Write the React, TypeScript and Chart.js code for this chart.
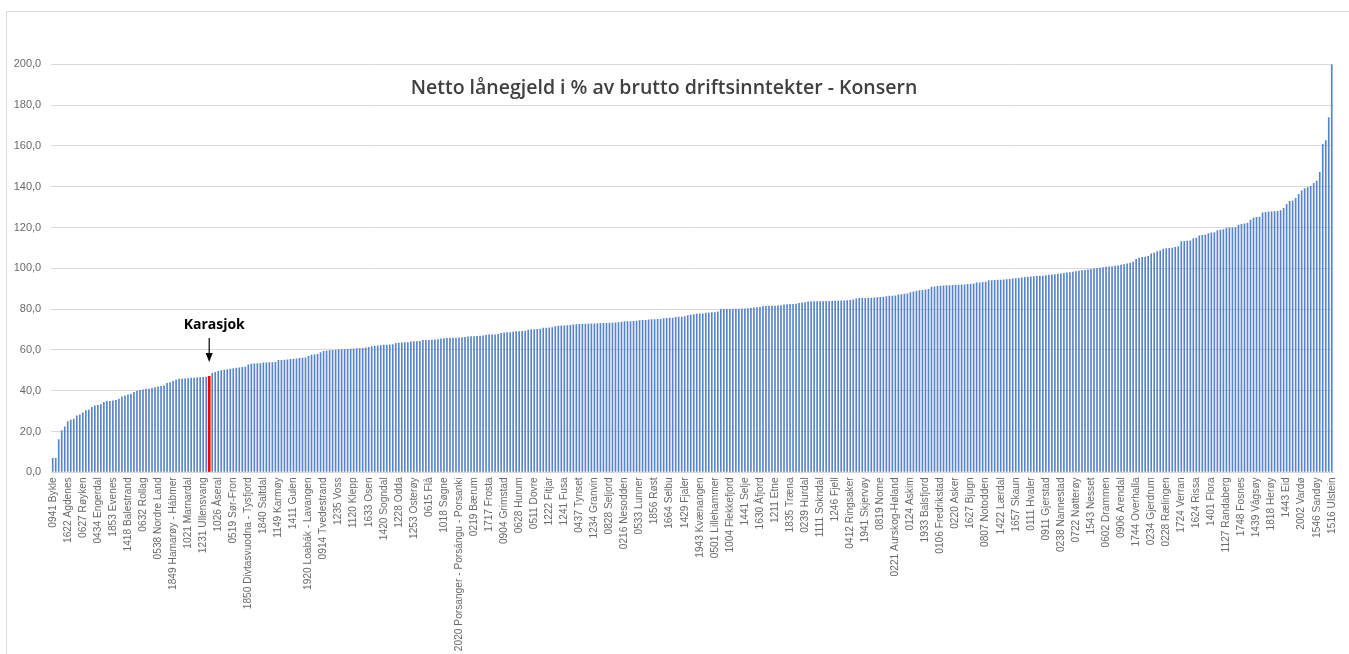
import React, { useEffect, useRef } from "react";
import { Chart, registerables } from "chart.js";

Chart.register(...registerables);

const TITLE = "Netto lånegjeld i % av brutto driftsinntekter - Konsern";
const HIGHLIGHT_NAME = "Karasjok";
const HIGHLIGHT_INDEX = 52;
const LABEL_STEP = 5;
const Y_MIN = 0;
const Y_MAX = 200;
const Y_STEP = 20;

const SHOWN_LABELS = [
  "0941 Bykle", "1622 Agdenes", "0627 Røyken", "0434 Engerdal", "1853 Evenes",
  "1418 Balestrand", "0632 Rollag", "0538 Nordre Land", "1849 Hamarøy - Hábmer", "1021 Marnardal",
  "1231 Ullensvang", "1026 Åseral", "0519 Sør-Fron", "1850 Divtasvuodna - Tysfjord", "1840 Saltdal",
  "1149 Karmøy", "1411 Gulen", "1920 Loabák - Lavangen", "0914 Tvedestrand", "1235 Voss",
  "1120 Klepp", "1633 Osen", "1420 Sogndal", "1228 Odda", "1253 Osterøy",
  "0615 Flå", "1018 Søgne", "2020 Porsanger - Porsángu - Porsanki", "0219 Bærum", "1717 Frosta",
  "0904 Grimstad", "0628 Hurum", "0511 Dovre", "1222 Fitjar", "1241 Fusa",
  "0437 Tynset", "1234 Granvin", "0828 Seljord", "0216 Nesodden", "0533 Lunner",
  "1856 Røst", "1664 Selbu", "1429 Fjaler", "1943 Kvænangen", "0501 Lillehammer",
  "1004 Flekkefjord", "1441 Selje", "1630 Åfjord", "1211 Etne", "1835 Træna",
  "0239 Hurdal", "1111 Sokndal", "1246 Fjell", "0412 Ringsaker", "1941 Skjervøy",
  "0819 Nome", "0221 Aurskog-Høland", "0124 Askim", "1933 Balsfjord", "0106 Fredrikstad",
  "0220 Asker", "1627 Bjugn", "0807 Notodden", "1422 Lærdal", "1657 Skaun",
  "0111 Hvaler", "0911 Gjerstad", "0238 Nannestad", "0722 Nøtterøy", "1543 Nesset",
  "0602 Drammen", "0906 Arendal", "1744 Overhalla", "0234 Gjerdrum", "0228 Rælingen",
  "1724 Verran", "1624 Rissa", "1401 Flora", "1127 Randaberg", "1748 Fosnes",
  "1439 Vågsøy", "1818 Herøy", "1443 Eid", "2002 Vardø", "1546 Sandøy",
  "1516 Ulstein",
];

const VALUES_A = [
  7.0, 7.0, 16.2, 20.6, 22.5, 25.0, 25.8, 26.3, 27.9, 28.3,
  29.3, 30.4, 30.7, 32.0, 32.7, 33.0, 33.3, 34.5, 35.0, 35.0,
  35.2, 35.4, 36.0, 37.1, 37.6, 38.1, 38.4, 39.4, 40.0, 40.3,
  40.6, 40.9, 41.0, 41.3, 41.7, 42.0, 42.3, 42.6, 43.8, 44.2,
  44.8, 45.4, 45.8, 45.9, 46.0, 46.1, 46.3, 46.4, 46.5, 46.6,
  46.7, 46.8, 47.2, 48.7, 49.2, 49.7, 50.0, 50.3, 50.5, 50.8,
  51.0, 51.3, 51.4, 51.6, 51.7, 52.9, 53.2, 53.3, 53.4, 53.5,
  53.8, 53.8, 53.9, 54.0, 54.1, 55.0, 55.1, 55.2, 55.3, 55.5,
  55.7, 55.8, 56.0, 56.1, 56.3, 57.0, 57.6, 57.8, 58.0, 58.8,
  59.4, 59.6, 59.8, 60.0, 60.1, 60.3, 60.3, 60.4, 60.5, 60.6,
];
const VALUES_B = [
  60.7, 60.8, 60.8, 60.9, 61.2, 61.4, 61.8, 62.0, 62.1, 62.3,
  62.5, 62.5, 62.6, 62.8, 63.4, 63.5, 63.6, 63.7, 63.8, 64.1,
  64.2, 64.3, 64.4, 64.8, 64.9, 64.9, 65.0, 65.1, 65.2, 65.6,
  65.7, 65.8, 65.9, 65.9, 66.0, 66.1, 66.2, 66.3, 66.6, 66.7,
  66.7, 66.8, 66.9, 67.0, 67.3, 67.5, 67.5, 67.6, 67.8, 68.3,
  68.5, 68.6, 68.7, 68.9, 69.1, 69.2, 69.3, 69.4, 69.9, 70.1,
  70.1, 70.2, 70.4, 70.8, 70.9, 71.0, 71.1, 71.6, 71.8, 71.9,
  72.0, 72.1, 72.2, 72.5, 72.6, 72.7, 72.7, 72.8, 72.8, 72.9,
  73.0, 73.1, 73.1, 73.2, 73.2, 73.3, 73.3, 73.4, 73.5, 73.8,
  74.0, 74.0, 74.1, 74.2, 74.3, 74.5, 74.6, 74.7, 74.9, 75.0,
];
const VALUES_C = [
  75.0, 75.1, 75.2, 75.5, 75.6, 75.7, 75.8, 76.1, 76.2, 76.3,
  76.5, 77.0, 77.2, 77.5, 77.7, 77.8, 77.9, 78.2, 78.3, 78.4,
  78.5, 78.8, 80.0, 80.0, 80.1, 80.1, 80.1, 80.2, 80.2, 80.3,
  80.3, 80.4, 80.6, 80.8, 80.9, 81.0, 81.4, 81.5, 81.6, 81.6,
  81.7, 81.8, 81.9, 82.2, 82.4, 82.5, 82.5, 82.6, 83.0, 83.2,
  83.3, 83.7, 83.8, 83.8, 83.9, 83.9, 83.9, 84.0, 84.0, 84.0,
  84.1, 84.1, 84.2, 84.2, 84.3, 84.5, 84.7, 85.2, 85.4, 85.5,
  85.5, 85.6, 85.6, 85.7, 85.8, 85.9, 86.0, 86.3, 86.5, 86.6,
  86.7, 87.1, 87.3, 87.5, 87.7, 88.3, 88.6, 89.0, 89.2, 89.4,
  89.6, 89.9, 90.9, 91.1, 91.3, 91.5, 91.6, 91.7, 91.7, 91.8,
];
const VALUES_D = [
  91.9, 91.9, 92.0, 92.1, 92.3, 92.4, 92.6, 93.0, 93.1, 93.3,
  93.4, 94.1, 94.2, 94.3, 94.4, 94.4, 94.5, 94.6, 94.8, 95.0,
  95.1, 95.3, 95.5, 95.7, 95.8, 96.0, 96.1, 96.2, 96.3, 96.4,
  96.6, 96.8, 97.0, 97.1, 97.3, 97.5, 97.7, 97.9, 98.1, 98.3,
  98.6, 98.8, 99.0, 99.2, 99.4, 99.7, 99.9, 100.1, 100.3, 100.5,
  100.7, 100.9, 101.0, 101.2, 101.4, 101.7, 102.0, 102.3, 102.7, 103.2,
  104.5, 105.2, 105.5, 105.7, 106.0, 107.3, 107.6, 108.4, 108.7, 109.6,
  109.8, 109.9, 110.1, 110.5, 110.8, 113.3, 113.4, 113.5, 113.6, 114.7,
  115.0, 116.1, 116.3, 116.5, 117.2, 117.5, 117.7, 118.7, 118.9, 119.1,
  119.8, 120.0, 120.0, 120.1, 121.3, 121.7, 122.0, 122.3, 123.8, 124.8,
];
const VALUES_E = [
  125.1, 125.3, 127.4, 127.6, 127.8, 127.9, 128.0, 128.1, 128.4, 129.5,
  131.5, 133.0, 133.2, 134.5, 136.4, 138.1, 139.3, 139.8, 140.3, 141.8,
  142.9, 147.2, 160.9, 162.8, 174.1, 200.0,
];

const VALUES = [...VALUES_A, ...VALUES_B, ...VALUES_C, ...VALUES_D, ...VALUES_E];

const CATEGORIES = VALUES.map((_, i) =>
  i % LABEL_STEP === 0 ? SHOWN_LABELS[i / LABEL_STEP] ?? "" : ""
);

const BAR_BLUE = "#5783CC";
const BAR_RED = "#FF0000";
const GRID = "#D9D9D9";
const TICK_COLOR = "#6A6A6A";
const TICK_FONT = "'Liberation Sans Narrow', 'Liberation Sans', Arial, sans-serif";

const W = 1349;
const H = 654;

export default function App() {
  const ref = useRef<HTMLCanvasElement | null>(null);

  useEffect(() => {
    if (!ref.current) return;

    const overlay = {
      id: "overlay",
      afterDatasetsDraw(chart: any) {
        const ctx = chart.ctx;
        const meta = chart.getDatasetMeta(0);
        const el = meta.data[HIGHLIGHT_INDEX];
        if (el) {
          const x = el.x;
          const top = el.y;
          ctx.save();
          ctx.fillStyle = "#000";
          ctx.strokeStyle = "#000";
          ctx.font = "bold 14px 'Open Sans', 'Liberation Sans', sans-serif";
          ctx.textAlign = "center";
          ctx.textBaseline = "middle";
          ctx.fillText(HIGHLIGHT_NAME, x + 5, top - 51);
          ctx.lineWidth = 1.2;
          ctx.beginPath();
          ctx.moveTo(x, top - 38);
          ctx.lineTo(x, top - 22);
          ctx.stroke();
          ctx.beginPath();
          ctx.moveTo(x - 3.5, top - 23);
          ctx.lineTo(x + 3.5, top - 23);
          ctx.lineTo(x, top - 14);
          ctx.closePath();
          ctx.fill();
          ctx.restore();
        }
        ctx.save();
        ctx.fillStyle = "#404040";
        ctx.font = "600 19.5px 'Open Sans', 'Liberation Sans', sans-serif";
        ctx.textAlign = "center";
        ctx.textBaseline = "middle";
        ctx.fillText(TITLE, 664, 88);
        ctx.restore();
      },
    };

    const chart = new Chart(ref.current, {
      type: "bar",
      data: {
        labels: CATEGORIES,
        datasets: [
          {
            label: HIGHLIGHT_NAME,
            data: VALUES.map((v, i) => (i === HIGHLIGHT_INDEX ? v : null)),
            backgroundColor: BAR_RED,
            barPercentage: 0.9,
            categoryPercentage: 1,
            grouped: false,
            order: 0,
          } as any,
          {
            label: "Netto lånegjeld",
            data: VALUES,
            backgroundColor: BAR_BLUE,
            barPercentage: 0.55,
            categoryPercentage: 1,
            grouped: false,
            order: 1,
          } as any,
        ],
      },
      options: {
        responsive: false,
        animation: false,
        layout: { padding: { left: 0, top: 64.3, right: 2.8, bottom: 0 } },
        plugins: {
          legend: { display: false },
          tooltip: { enabled: false },
          title: { display: false },
        },
        scales: {
          x: {
            grid: { display: false, drawTicks: false },
            border: { display: true, color: GRID, width: 1 },
            ticks: {
              autoSkip: false,
              maxRotation: 90,
              minRotation: 90,
              padding: 5,
              color: TICK_COLOR,
              font: { family: TICK_FONT, size: 10.2 },
            },
            afterFit(scale: any) {
              scale.height = H - 472.3;
            },
          },
          y: {
            min: Y_MIN,
            max: Y_MAX,
            grid: { color: GRID, lineWidth: 1, drawTicks: false },
            border: { display: false },
            ticks: {
              stepSize: Y_STEP,
              padding: 10,
              color: TICK_COLOR,
              font: { family: TICK_FONT, size: 11 },
              callback: (v: any) => Number(v).toFixed(1).replace(".", ","),
            },
            afterFit(scale: any) {
              scale.width = 51.2;
            },
          },
        },
      },
      plugins: [overlay],
    });

    return () => chart.destroy();
  }, []);

  return (
    <div style={{ position: "absolute", left: 0, top: 0, width: W, height: H, overflow: "hidden", background: "#fff" }}>
      <div
        style={{
          position: "absolute",
          left: 6,
          top: 11,
          width: W - 6,
          height: H - 11,
          borderLeft: "1px solid #D9D9D9",
          borderTop: "1px solid #D9D9D9",
          boxSizing: "border-box",
        }}
      />
      <canvas ref={ref} width={W} height={H} style={{ position: "absolute", left: 0, top: 0, width: W, height: H }} />
    </div>
  );
}
